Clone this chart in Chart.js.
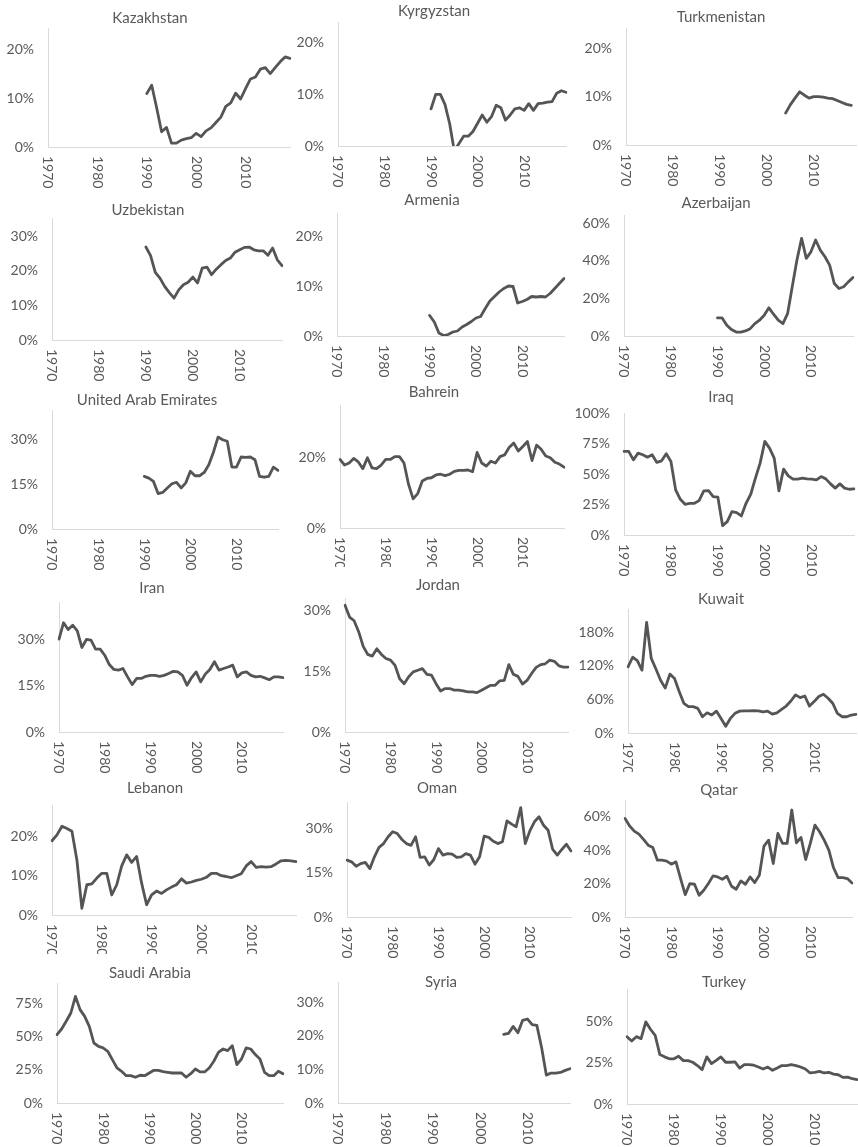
<!DOCTYPE html>
<html>
<head>
<meta charset="utf-8">
<script src="https://cdn.jsdelivr.net/npm/chart.js@4.4.1/dist/chart.umd.min.js"></script>
<style>
  html, body { margin: 0; padding: 0; background: #fff; }
  #wrap { position: relative; width: 858px; height: 1147px; overflow: hidden; background: #fff; }
  #wrap canvas { position: absolute; }
</style>
</head>
<body>
<div id="wrap"></div>
<script>
// categories
const years = [
  1970, 1971, 1972, 1973, 1974, 1975, 1976, 1977, 1978, 1979,
  1980, 1981, 1982, 1983, 1984, 1985, 1986, 1987, 1988, 1989,
  1990, 1991, 1992, 1993, 1994, 1995, 1996, 1997, 1998, 1999,
  2000, 2001, 2002, 2003, 2004, 2005, 2006, 2007, 2008, 2009,
  2010, 2011, 2012, 2013, 2014, 2015, 2016, 2017, 2018, 2019
];
const xTickLabels = [1970, 1980, 1990, 2000, 2010];

// y tick labels (percent)
const ticks0to20 = [0, 10, 20];
const ticks0to30 = [0, 10, 20, 30];
const ticks15 = [0, 15, 30];
const ticks20 = [0, 20];
const ticks0to60 = [0, 20, 40, 60];
const ticks0to100 = [0, 25, 50, 75, 100];
const ticks60 = [0, 60, 120, 180];
const ticks0to75 = [0, 25, 50, 75];
const ticks0to50 = [0, 25, 50];

// series, % per year 1970-2019
const kazakhstan = [
  null, null, null, null, null, null, null, null, null, null,
  null, null, null, null, null, null, null, null, null, null,
  10.9, 12.6, 8.0, 3.1, 4.0, 0.8, 0.8, 1.4, 1.7, 1.9,
  2.8, 2.1, 3.3, 3.9, 5.0, 6.1, 8.3, 9.0, 11.0, 9.8,
  11.9, 13.9, 14.3, 15.9, 16.2, 15.0, 16.2, 17.4, 18.4, 18.1
];
const kyrgyzstan = [
  null, null, null, null, null, null, null, null, null, null,
  null, null, null, null, null, null, null, null, null, null,
  7.2, 10.0, 10.0, 8.0, 4.3, -1.0, 0.5, 1.9, 1.9, 2.8,
  4.4, 6.0, 4.6, 5.7, 7.9, 7.4, 5.0, 6.0, 7.2, 7.4,
  6.9, 8.2, 6.9, 8.2, 8.3, 8.5, 8.6, 10.2, 10.7, 10.4
];
const turkmenistan = [
  null, null, null, null, null, null, null, null, null, null,
  null, null, null, null, null, null, null, null, null, null,
  null, null, null, null, null, null, null, null, null, null,
  null, null, null, null, 6.6, 8.3, 9.7, 11.0, 10.3, 9.7,
  10.0, 10.0, 9.9, 9.7, 9.6, 9.2, 8.8, 8.4, 8.2, null
];
const uzbekistan = [
  null, null, null, null, null, null, null, null, null, null,
  null, null, null, null, null, null, null, null, null, null,
  26.9, 24.4, 19.6, 17.9, 15.5, 13.7, 12.1, 14.5, 16.0, 16.7,
  18.2, 16.5, 20.8, 21.1, 18.9, 20.5, 21.8, 23.0, 23.7, 25.4,
  26.1, 26.8, 26.9, 26.1, 25.8, 25.8, 24.5, 26.6, 23.2, 21.5
];
const armenia = [
  null, null, null, null, null, null, null, null, null, null,
  null, null, null, null, null, null, null, null, null, null,
  4.1, 2.8, 0.6, 0.1, 0.3, 0.8, 1.0, 1.8, 2.3, 2.9,
  3.6, 3.9, 5.5, 7.0, 7.9, 8.8, 9.5, 10.0, 9.9, 6.6,
  6.9, 7.3, 7.9, 7.8, 7.9, 7.8, 8.5, 9.5, 10.5, 11.5
];
const azerbaijan = [
  null, null, null, null, null, null, null, null, null, null,
  null, null, null, null, null, null, null, null, null, null,
  9.6, 9.6, 5.7, 3.4, 2.1, 2.1, 2.7, 3.9, 6.6, 8.4,
  11.0, 15.0, 11.6, 8.4, 6.6, 11.9, 26.2, 40.4, 52.0, 41.3,
  44.8, 51.1, 45.7, 42.2, 37.7, 27.9, 25.3, 26.2, 28.8, 31.1
];
const uae = [
  null, null, null, null, null, null, null, null, null, null,
  null, null, null, null, null, null, null, null, null, null,
  17.7, 17.1, 16.0, 11.9, 12.3, 13.8, 15.2, 15.7, 13.8, 15.5,
  19.4, 17.9, 17.9, 19.0, 21.6, 25.8, 30.9, 30.0, 29.5, 20.8,
  20.8, 24.2, 24.1, 24.2, 23.3, 17.7, 17.4, 17.7, 20.8, 19.7
];
const bahrein = [
  19.5, 17.9, 18.5, 19.8, 18.8, 16.9, 20.0, 17.1, 16.9, 17.9,
  19.5, 19.5, 20.3, 20.3, 18.5, 12.4, 8.3, 9.8, 13.4, 14.1,
  14.3, 15.1, 15.3, 14.9, 15.3, 16.1, 16.4, 16.4, 16.5, 16.0,
  21.5, 18.5, 17.6, 19.0, 18.5, 20.3, 20.8, 22.9, 24.2, 21.9,
  23.2, 24.6, 19.2, 23.6, 22.4, 20.5, 20.0, 18.7, 18.2, 17.3
];
const iraq = [
  68.5, 68.5, 61.6, 67.1, 65.8, 63.8, 65.8, 59.5, 60.8, 66.6,
  60.3, 37.0, 29.3, 25.2, 26.0, 26.0, 28.2, 36.2, 36.4, 31.5,
  31.0, 7.7, 11.0, 19.2, 18.4, 15.6, 26.0, 33.4, 46.6, 58.9,
  76.7, 71.2, 63.0, 36.2, 54.0, 48.5, 45.8, 45.8, 46.6, 46.0,
  45.8, 45.2, 47.9, 46.0, 41.9, 38.4, 41.9, 38.4, 37.5, 37.8
];
const iran = [
  30.0, 35.3, 33.1, 34.5, 32.7, 27.3, 29.9, 29.7, 26.8, 26.8,
  24.8, 21.8, 20.2, 20.0, 20.5, 17.8, 15.3, 17.3, 17.3, 18.0,
  18.3, 18.3, 18.0, 18.3, 18.9, 19.6, 19.4, 18.3, 15.1, 17.6,
  19.4, 16.2, 18.7, 20.2, 22.7, 20.0, 20.5, 21.0, 21.6, 17.8,
  19.1, 19.4, 18.3, 17.8, 18.0, 17.5, 16.9, 17.8, 17.8, 17.6
];
const jordan = [
  31.2, 28.3, 27.4, 24.7, 21.1, 19.1, 18.7, 20.5, 19.1, 18.1,
  17.7, 16.4, 13.1, 11.9, 13.6, 14.8, 15.2, 15.6, 14.2, 14.0,
  11.9, 10.1, 10.7, 10.7, 10.3, 10.3, 10.1, 9.9, 9.9, 9.7,
  10.3, 10.9, 11.5, 11.5, 12.6, 12.7, 16.6, 14.2, 13.7, 11.8,
  12.7, 14.4, 15.9, 16.6, 16.8, 17.7, 17.4, 16.3, 16.0, 16.0
];
const kuwait = [
  118, 135, 129, 112, 197, 133, 114, 94, 80, 105,
  97, 74, 53, 47, 47, 44, 29, 36, 32, 39,
  26, 12, 26, 35, 39, 39.5, 39.5, 40, 39.5, 37.7,
  39, 33.5, 36, 42, 48, 57, 68, 63, 66, 48,
  56, 65, 69, 62, 53, 35, 29, 29, 32, 33
];
const lebanon = [
  18.9, 20.4, 22.6, 22.0, 21.3, 14.0, 1.7, 7.7, 7.9, 9.4,
  10.6, 10.6, 5.1, 7.7, 12.5, 15.3, 13.4, 14.9, 8.1, 2.6,
  5.1, 6.1, 5.5, 6.4, 7.1, 7.7, 9.2, 8.1, 8.4, 8.8,
  9.1, 9.6, 10.6, 10.6, 10.0, 9.8, 9.5, 10.0, 10.5, 12.5,
  13.6, 12.1, 12.3, 12.2, 12.3, 13.0, 13.8, 13.9, 13.8, 13.6
];
const oman = [
  19.3, 18.7, 17.2, 18.1, 18.5, 16.4, 20.4, 23.6, 24.9, 27.2,
  28.9, 28.3, 26.3, 24.9, 24.3, 27.2, 20.2, 20.4, 17.6, 19.5,
  23.2, 21.0, 21.5, 21.3, 20.2, 20.4, 21.5, 21.0, 17.9, 20.4,
  27.4, 27.0, 25.7, 24.9, 25.5, 32.6, 31.5, 30.6, 37.1, 24.9,
  29.2, 32.3, 34.0, 31.1, 29.4, 22.9, 21.0, 22.9, 24.7, 22.4
];
const qatar = [
  59, 54.4, 51.4, 49.6, 46.4, 43, 41.6, 34, 34, 33.4,
  31.6, 33, 23, 13.4, 20, 19.6, 13, 16, 20, 24.6,
  24, 22.6, 24.4, 18.4, 16.6, 21.6, 19.6, 24, 20.6, 25,
  42.4, 46, 32, 50, 44, 44, 64, 44.4, 47.6, 34.4,
  44, 55, 51, 46, 40, 29.6, 23.6, 23.6, 23, 20.4
];
const saudiArabia = [
  51.3, 55.5, 61.3, 67.5, 80, 70, 65, 57.5, 45, 42.5,
  41.3, 38.8, 32.5, 26.3, 23.8, 20.5, 20.5, 19.3, 20.8, 20.5,
  22.5, 24.5, 24.5, 23.5, 23, 22.5, 22.5, 22.5, 19.3, 22,
  25.5, 23.3, 23.3, 26.3, 31.3, 38, 40.5, 39.3, 43, 28.8,
  33, 41.3, 40.5, 36.3, 33, 23, 20.5, 20.5, 23.8, 22
];
const syria = [
  null, null, null, null, null, null, null, null, null, null,
  null, null, null, null, null, null, null, null, null, null,
  null, null, null, null, null, null, null, null, null, null,
  null, null, null, null, null, 20.4, 20.7, 22.8, 20.9, 24.6,
  25.0, 23.3, 23.1, 16.5, 8.3, 8.9, 8.9, 9.1, 9.7, 10.2
];
const turkey = [
  41, 38.3, 41, 39.8, 50, 45.5, 41.8, 30.1, 28.7, 27.5,
  27.5, 29.1, 26.4, 26.4, 25.4, 23.4, 20.9, 28.7, 24.6, 26.6,
  28.7, 25.4, 25.4, 25.6, 21.9, 24, 24, 23.6, 22.5, 21.3,
  22.5, 20.5, 21.9, 23.4, 23.4, 24, 23.4, 22.5, 21.3, 18.9,
  19.3, 19.9, 18.9, 19.3, 18.2, 17.8, 16.2, 16.4, 15.4, 14.8
];

// layout: plot box [left, right, top, bottom], title centre, axis max
const panels = [
  { name: 'Kazakhstan', data: kazakhstan, ticks: ticks0to20, max: 24.3, box: [48, 290, 28, 147], title: [150, 18], clip: false },
  { name: 'Kyrgyzstan', data: kyrgyzstan, ticks: ticks0to20, max: 24, box: [338, 566, 22, 146], title: [434, 11], clip: false },
  { name: 'Turkmenistan', data: turkmenistan, ticks: ticks0to20, max: 24.2, box: [626, 856, 28, 145], title: [721, 17], clip: false },
  { name: 'Uzbekistan', data: uzbekistan, ticks: ticks0to30, max: 35.3, box: [52, 282, 218, 340], title: [148, 210], clip: false },
  { name: 'Armenia', data: armenia, ticks: ticks0to20, max: 24.6, box: [337, 564, 213, 336], title: [432, 200], clip: false },
  { name: 'Azerbaijan', data: azerbaijan, ticks: ticks0to60, max: 64.4, box: [624, 853, 215, 336], title: [716, 203], clip: false },
  { name: 'United Arab Emirates', data: uae, ticks: ticks15, max: 40, box: [52, 278, 410, 529], title: [147, 400], clip: false },
  { name: 'Bahrein', data: bahrein, ticks: ticks20, max: 35, box: [340, 564, 405, 528], title: [434, 392], clip: true },
  { name: 'Iraq', data: iraq, ticks: ticks0to100, max: 100, box: [624, 854, 413, 535], title: [721, 397], clip: false },
  { name: 'Iran', data: iran, ticks: ticks15, max: 42, box: [59, 283, 602, 732], title: [152, 588], clip: false },
  { name: 'Jordan', data: jordan, ticks: ticks15, max: 33, box: [345, 568, 598, 732], title: [438, 585], clip: false },
  { name: 'Kuwait', data: kuwait, ticks: ticks60, max: 221, box: [628, 856, 609, 733], title: [721, 599], clip: true },
  { name: 'Lebanon', data: lebanon, ticks: ticks0to20, max: 28, box: [52, 296, 805, 915], title: [155, 788], clip: true },
  { name: 'Oman', data: oman, ticks: ticks15, max: 39, box: [347, 571, 802, 917], title: [437, 788], clip: false },
  { name: 'Qatar', data: qatar, ticks: ticks0to60, max: 70, box: [625, 852, 800, 917], title: [719, 790], clip: false },
  { name: 'Saudi Arabia', data: saudiArabia, ticks: ticks0to75, max: 90, box: [57, 283, 983, 1103], title: [150, 973], clip: false },
  { name: 'Syria', data: syria, ticks: ticks0to30, max: 36, box: [338, 570, 982, 1103], title: [441, 982], clip: false },
  { name: 'Turkey', data: turkey, ticks: ticks0to50, max: 70, box: [627, 857, 989, 1104], title: [724, 982], clip: false }
];

const FONT = 'Lato, "Open Sans", sans-serif';
const TEXT = '#595959';
const AXIS = '#d9d9d9';
const LINE = '#555555';
const Y_W = 60;   // width of the y axis box

Chart.defaults.font.family = FONT;

// x labels read top to bottom, so they are drawn here
const xLabels = {
  id: 'xLabels',
  afterDraw(chart) {
    const sc = chart.scales.x;
    const ctx = chart.ctx;
    ctx.save();
    ctx.font = '14px ' + FONT;
    ctx.fillStyle = TEXT;
    ctx.textAlign = 'left';
    ctx.textBaseline = 'middle';
    xTickLabels.forEach(yr => {
      const x = sc.getPixelForValue(years.indexOf(yr));
      ctx.save();
      ctx.translate(x, sc.top + 9);
      ctx.rotate(Math.PI / 2);
      ctx.fillText(String(yr), 0, 0);
      ctx.restore();
    });
    ctx.restore();
  }
};

const wrap = document.getElementById('wrap');

panels.forEach(p => {
  const [L, R, T, B] = p.box;
  const [tx, ty] = p.title;
  const cx = L - Y_W;
  // empty box on the right so the title centres on tx
  const spacer = 2 * tx - cx - R;
  const cy = ty - 11;
  const below = p.clip ? 39 : 46;
  const w = R + spacer - cx;
  const h = B + below - cy;

  const cv = document.createElement('canvas');
  cv.width = w;
  cv.height = h;
  cv.style.left = cx + 'px';
  cv.style.top = cy + 'px';
  cv.style.width = w + 'px';
  cv.style.height = h + 'px';
  wrap.appendChild(cv);

  new Chart(cv.getContext('2d'), {
    type: 'line',
    data: {
      labels: years,
      datasets: [{
        data: p.data,
        yAxisID: 'y',
        borderColor: LINE,
        borderWidth: 2.8,
        pointRadius: 0,
        tension: 0,
        fill: false,
        borderCapStyle: 'round',
        borderJoinStyle: 'round'
      }]
    },
    options: {
      responsive: false,
      animation: false,
      devicePixelRatio: 1,
      layout: { padding: 0 },
      plugins: {
        legend: { display: false },
        tooltip: { enabled: false },
        title: {
          display: true,
          text: p.name,
          color: TEXT,
          font: { family: FONT, size: 15, weight: 'normal' },
          padding: { top: 2, bottom: T - ty - 9 }
        }
      },
      scales: {
        x: {
          type: 'category',
          grid: { display: false, drawTicks: false },
          border: { display: true, color: AXIS, width: 1 },
          ticks: { display: false },
          afterFit: s => { s.height = below; s.paddingLeft = 0; s.paddingRight = 0; }
        },
        y: {
          min: 0,
          max: p.max,
          grid: { display: false, drawTicks: false },
          border: { display: true, color: AXIS, width: 1 },
          ticks: {
            padding: 14,
            color: TEXT,
            font: { family: FONT, size: 14 },
            callback: v => v + '%'
          },
          afterBuildTicks: s => { s.ticks = p.ticks.map(v => ({ value: v })); },
          afterFit: s => { s.width = Y_W; s.paddingTop = 0; s.paddingBottom = 0; }
        },
        spacer: {
          type: 'linear',
          position: 'right',
          grid: { display: false, drawTicks: false },
          border: { display: false },
          ticks: { display: false },
          afterFit: s => { s.width = spacer; s.paddingTop = 0; s.paddingBottom = 0; }
        }
      }
    },
    plugins: [xLabels]
  });
});
</script>
</body>
</html>
